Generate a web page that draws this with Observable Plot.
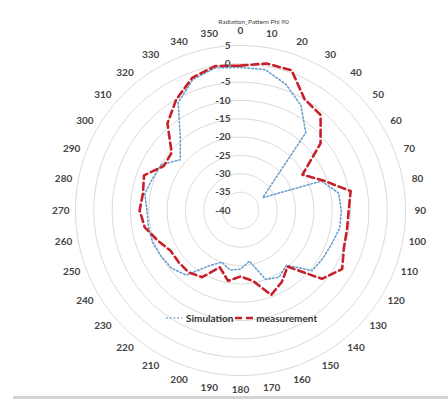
<!DOCTYPE html>
<html><head><meta charset="utf-8">
<script src="https://cdn.jsdelivr.net/npm/d3@7"></script>
<script src="https://cdn.jsdelivr.net/npm/@observablehq/plot@0.6"></script>
<style>
body{margin:0;background:#fff;font-family:Lato,"Liberation Sans",sans-serif;}
#wrap{position:relative;width:448px;height:401px;overflow:hidden;background:#fff;}
#legend{position:absolute;left:165px;top:312px;display:flex;align-items:center;font-size:10px;font-weight:700;color:#333;white-space:nowrap;}
#legend svg{display:block}
#bottomline{position:absolute;left:13px;right:0;top:396px;height:3px;background:#d4d4d4;}
</style></head><body><div id="wrap"></div>
<script>
const angles = [0,10,20,30,40,50,60,70,80,90,100,110,120,130,140,150,160,170,180,190,200,210,220,230,240,250,260,270,280,290,300,310,320,330,340,350];
const simulation = [-1,-1,-3.5,-7,-12.3,-29,-33,-16.5,-12.8,-12.5,-12.5,-13.5,-14,-14.5,-20.5,-19,-20,-26,-24,-23.5,-25,-22.5,-17,-15.5,-15,-14.5,-14.5,-14.5,-13.5,-14.5,-15,-18.5,-14.5,-6,-2,-0.5];
const measurement = [-0.5,0.7,0.7,-5,-6,-11.5,-20.5,-16,-9.5,-10.5,-10.5,-10,-8,-11,-20,-17.5,-15.5,-20.5,-22,-20.5,-23.5,-19,-18,-18,-18,-16,-13.5,-12.5,-13,-12,-15.8,-15.5,-9,-5,-1.5,0];
const ringValues = [5,0,-5,-10,-15,-20,-25,-30,-35];
const axisLabels = [5,0,-5,-10,-15,-20,-25,-30,-35,-40];
const angleLabels = angles.map(String);
const title = "Radiation_Pattern Phi 90";
const seriesNames = ["Simulation","measurement"];

const rMin = -40, rMax = 5;
const lon = a => 180 - a;
const lat = v => 90 - (v - rMin);

const simData = angles.map((a,i)=>({angle:a, value:simulation[i]}));
const meaData = angles.map((a,i)=>({angle:a, value:measurement[i]}));
const labelData = angles.map((a,i)=>({angle:a, text:angleLabels[i]}));

const chart = Plot.plot({
  width: 448, height: 401,
  marginLeft: 75, marginRight: 43, marginTop: 45, marginBottom: 26,
  projection: {type: "azimuthal-equidistant", rotate: [0, -90], clip: false, domain: d3.geoCircle().center([0, 90]).radius(rMax - rMin)()},
  style: {fontFamily: "Lato, 'Liberation Sans', sans-serif", background: "#fff"},
  marks: [
    Plot.geo(ringValues, {geometry: v => d3.geoCircle().center([0, 90]).radius(v - rMin)(), stroke: "#d9d9d9", strokeWidth: 1, fill: "none"}),
    Plot.line(simData, {x: d => lon(d.angle), y: d => lat(d.value), curve: "linear-closed", stroke: "#6a9fcf", strokeWidth: 1.6, strokeDasharray: "1.6,2.2"}),
    Plot.line(meaData, {x: d => lon(d.angle), y: d => lat(d.value), curve: "linear-closed", stroke: "#c8202a", strokeWidth: 2.6, strokeDasharray: "7,4"}),
    Plot.text(axisLabels, {x: () => 180, y: v => lat(v), text: v => String(v), textAnchor: "end", dx: -10, fontSize: 10, fontWeight: 700, fill: "#444"}),
    Plot.text(labelData, {x: d => lon(d.angle), y: () => lat(rMin + 49), text: "text", fontSize: 10, fontWeight: 700, fill: "#444"}),
    Plot.text([title], {frameAnchor: "top", dx: 13, dy: -26, text: d => d, fontSize: 6.5, fill: "#444"})
  ]
});

const wrap = document.getElementById("wrap");
wrap.appendChild(chart);
const legend = document.createElement("div");
legend.id = "legend";
legend.innerHTML =
  `<svg width="18" height="8"><line x1="1" y1="4" x2="17" y2="4" stroke="#6a9fcf" stroke-width="1.6" stroke-dasharray="1.6,2.2"/></svg>` +
  `<span style="margin:0 2px 0 3px">${seriesNames[0]}</span>` +
  `<svg width="20" height="8"><line x1="0" y1="4" x2="20" y2="4" stroke="#c8202a" stroke-width="2.6" stroke-dasharray="7,4"/></svg>` +
  `<span style="margin-left:1px">${seriesNames[1]}</span>`;
wrap.appendChild(legend);
const bl = document.createElement("div"); bl.id = "bottomline"; wrap.appendChild(bl);
</script></body></html>
